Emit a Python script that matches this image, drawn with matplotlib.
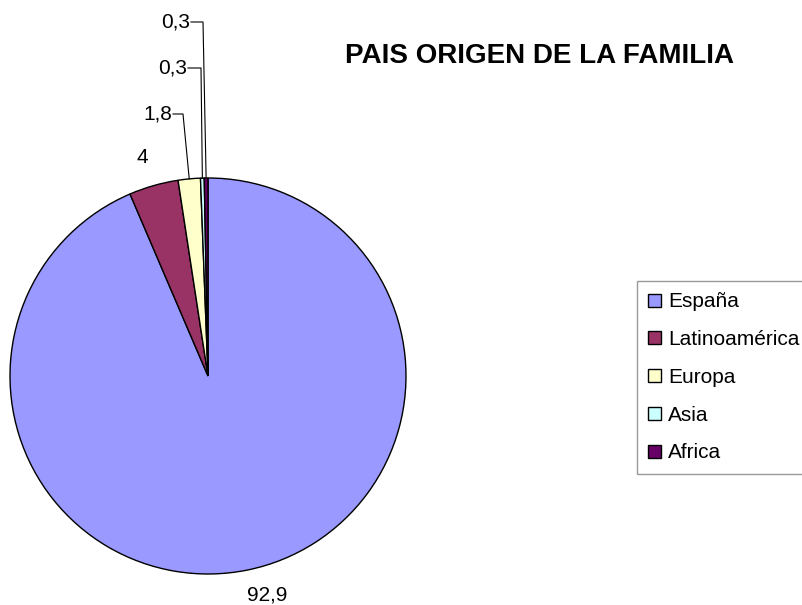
import numpy as np
import matplotlib.pyplot as plt

plt.rcParams['font.family'] = ['Liberation Sans', 'DejaVu Sans']

# data
categories = ['España', 'Latinoamérica', 'Europa', 'Asia', 'Africa']
values = [92.9, 4, 1.8, 0.3, 0.3]
colors = ['#9999FF', '#993366', '#FFFFCC', '#CCFFFF', '#660066']
title = 'PAIS ORIGEN DE LA FAMILIA'

fig = plt.figure(figsize=(8.03, 6.05), dpi=100)
ax = fig.add_axes([0, 0, 1, 1])

# pie in pixel-like coordinates (y up)
cx, cy, r = 208, 229, 198
wedges, _ = ax.pie(values, colors=colors, startangle=90, counterclock=False,
                   center=(cx, cy), radius=r,
                   wedgeprops=dict(edgecolor='black', linewidth=1.0))
ax.set_xlim(0, 803)
ax.set_ylim(0, 605)
ax.set_aspect('equal')
ax.axis('off')

def lab(v):
    return ('%g' % v).replace('.', ',')

fs = 15
# mid-angle edge points of each wedge
mids = []
for w in wedges:
    a = np.deg2rad((w.theta1 + w.theta2) / 2)
    mids.append((cx + r * np.cos(a), cy + r * np.sin(a)))

# España and Latinoamérica: plain labels outside
for i, (dx, dy) in [(0, (19, -25)), (1, (-11, 28))]:
    x, y = mids[i]
    ax.text(x + dx, y + dy, lab(values[i]), fontsize=fs, ha='center', va='center')

# small slices with leader lines: (start x, bend x, y)
leaders = {2: (173, 183, 491), 3: (188, 201, 537), 4: (191, 203, 583)}
for i, (x0, lx, ly) in leaders.items():
    x, y = mids[i]
    ax.plot([x0, lx, x], [ly, ly, y], color='black', lw=0.8)
    ax.text(x0 - 1, ly, lab(values[i]), fontsize=fs, ha='right', va='center')

fig.text(540 / 803, 1 - 56 / 605, title, fontsize=20, fontweight='bold',
         ha='center', va='center')

leg = fig.legend(wedges, categories, loc='upper left',
                 bbox_to_anchor=(637 / 803, 1 - 281 / 605),
                 fontsize=fs, frameon=True, fancybox=False, edgecolor='#808080',
                 handlelength=0.6, handleheight=0.6, handletextpad=0.35,
                 labelspacing=0.9, borderpad=0.55, borderaxespad=0)
leg.get_frame().set_linewidth(1.0)
for h in leg.legend_handles:
    h.set_edgecolor('black')
    h.set_linewidth(1.0)

fig.savefig('out.png', dpi=100)
